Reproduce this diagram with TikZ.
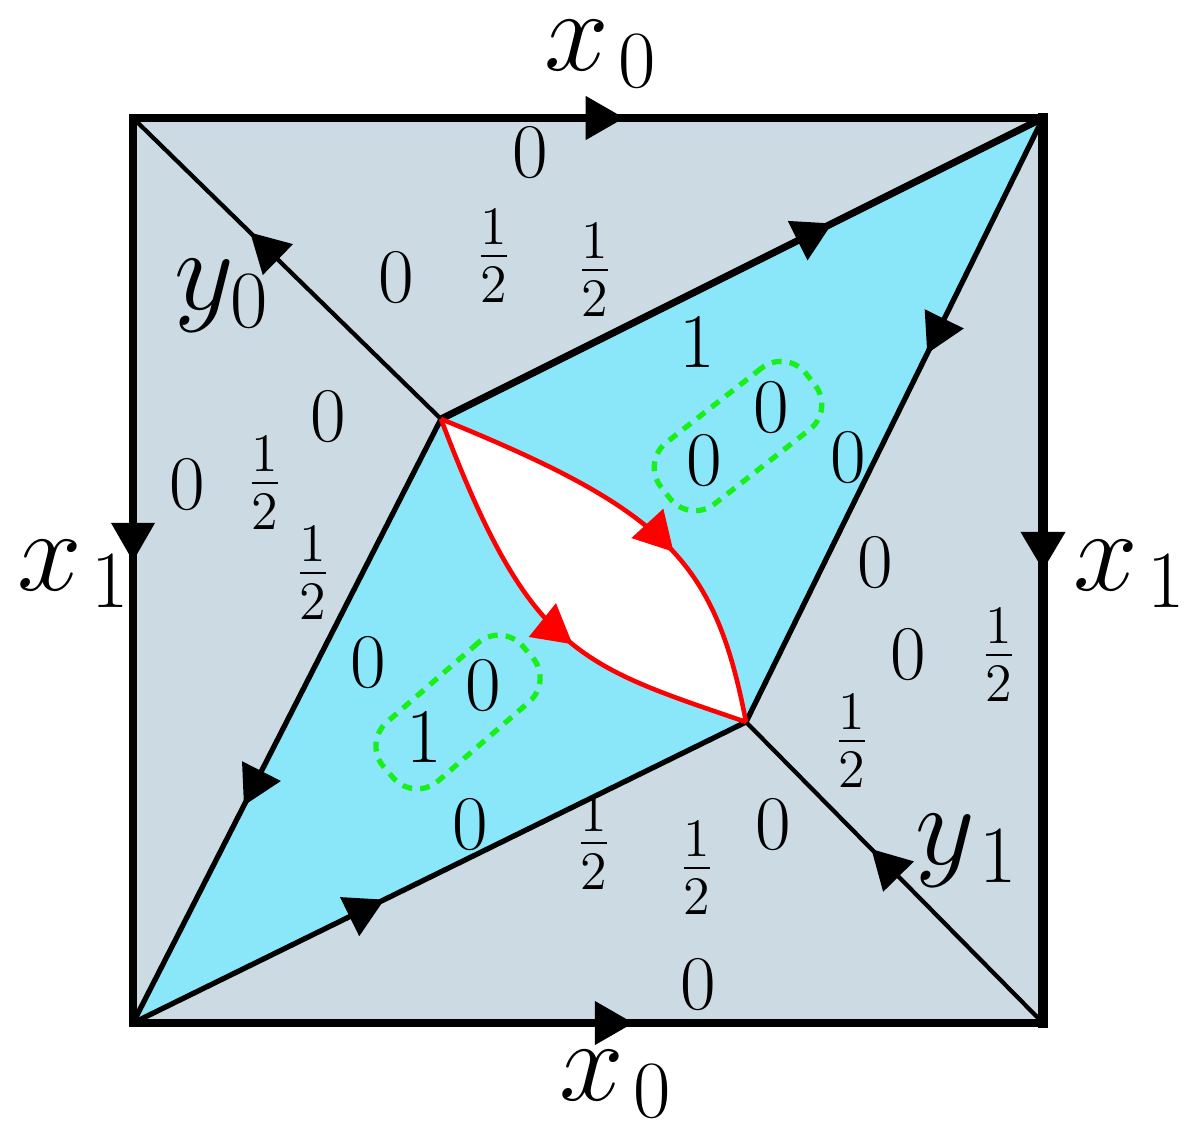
\RequirePackage{fix-cm}
\documentclass[tikz,border=0pt]{standalone}
\usetikzlibrary{arrows.meta, decorations.markings, calc}
\definecolor{sqgrey}{RGB}{204,219,227}
\definecolor{sqcyan}{RGB}{138,230,249}
\definecolor{loopgreen}{RGB}{25,240,25}
\tikzstyle{lab}=[inner sep=0pt, font=\fontsize{22}{26}\selectfont]
\tikzstyle{biglab}=[inner sep=0pt, font=\fontsize{33}{40}\selectfont]
\tikzstyle{oval}=[draw=loopgreen, line width=1.5pt, dash pattern=on 2.8pt off 2.3pt, rounded corners=9pt, minimum width=1.84cm, minimum height=0.78cm, inner sep=0pt]
\tikzstyle{side}=[line width=2pt, line cap=rect]
\tikzstyle{diag}=[line width=1.2pt]
\tikzstyle{rim}=[line width=1.5pt]
\tikzstyle{lens}=[red, line width=1.3pt]
\tikzset{arr/.style={postaction={decorate}, decoration={markings, mark=at position #1 with {\arrow{Triangle[length=11pt,width=12pt]}}}}}

\begin{document}
\begin{tikzpicture}[x=0.01cm, y=0.01cm]
\useasboundingbox (0,0) rectangle (1200,1135);
\coordinate (tl) at (133,1017); \coordinate (tr) at (1043,1017);
\coordinate (bl) at (133,112); \coordinate (br) at (1043,112);
\coordinate (a) at (441,716); \coordinate (b) at (746,413);
%regions
\fill[sqgrey] (tl) rectangle (br);
\fill[sqcyan] (bl) -- (a) -- (tr) -- (b) -- cycle;
\fill[white] (a) .. controls (665,625) and (715,575) .. (b) .. controls (580,470) and (530,480) .. (a);
%inner edges
\draw[diag, arr=0.62] (a) -- (tl);
\draw[diag, arr=0.58] (br) -- (b);
\draw[line width=2pt, arr=0.65] (a) -- (tr);
\draw[rim, arr=0.39] (tr) -- (b);
\draw[rim, arr=0.64] (a) -- (bl);
\draw[rim, arr=0.41] (bl) -- (b);
%square
\draw[side, arr=0.54] (tl) -- (tr);
\draw[side, arr=0.55] (bl) -- (br);
\draw[side, arr=0.49] (tl) -- (bl);
\draw[side, line width=2.8pt, arr=0.50] (tr) -- (br);
%lens
\draw[lens, arr=0.59] (a) .. controls (665,625) and (715,575) .. (b);
\draw[lens, arr=0.58] (a) .. controls (530,480) and (580,470) .. (b);
%loops
\node[oval, rotate=38] (ov1) at (738,699) {};
\node[oval, rotate=41] (ov2) at (458,423) {};
%weights
\foreach \px/\py/\lbl [count=\i] in {530/982/0, 396/857/0, 494/879/\frac12, 595/865/\frac12,
  697/792/1, 328/718/0, 187/650/0, 265/652/\frac12, 313/562/\frac12,
  771/727/0, 704/674/0, 848/677/0, 875/572/0, 908/480/0, 999/480/\frac12, 852/394/\frac12,
  368/472/0, 483/449/0, 424/397/1, 470/310/0, 594/292/\frac12, 697/267/\frac12, 773/310/0, 698/150/0}{
  \node[lab] (w\i) at (\px,\py) {$\lbl$};
}
%edge names
\node[biglab] (xt) at (601,1081) {$x_{\mkern2mu 0}$};
\node[biglab] (xb) at (616,51) {$x_{\mkern2mu 0}$};
\node[biglab] (xl) at (74,561) {$x_{\mkern2mu 1}$};
\node[biglab] (xr) at (1130,561) {$x_{\mkern2mu 1}$};
\node[biglab] (y0) at (222,839) {$y_0$};
\node[biglab] (y1) at (967,284) {$y_{\mkern2mu 1}$};
\end{tikzpicture}
\end{document}
